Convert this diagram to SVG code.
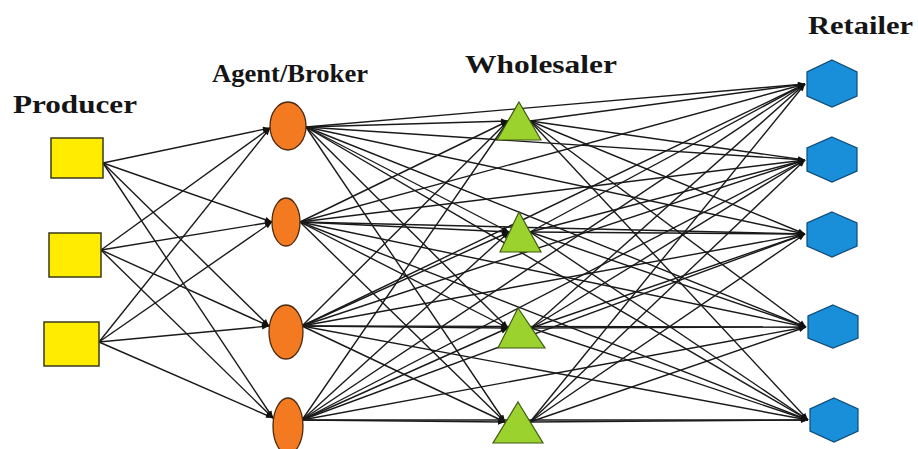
<svg xmlns="http://www.w3.org/2000/svg" width="918" height="449" viewBox="0 0 918 449">
<style>
.lbl{font-family:"Liberation Serif","Times New Roman",serif;font-weight:bold;font-size:25px;fill:#151515}
.c line{stroke:#1a1a1a;stroke-width:1.4;marker-end:url(#arr)}
.prod{fill:#ffec00;stroke:#3a3a1a;stroke-width:1.5}
.agent{fill:#f47a22;stroke:#4a2a10;stroke-width:1.3}
.whol{fill:#9bd22e;stroke:#3d5a10;stroke-width:1.2}
.ret{fill:#1a8fd9;stroke:#0d4a7a;stroke-width:1.2}
</style>
<defs>
<marker id="arr" viewBox="0 0 10 10" refX="10" refY="5" markerWidth="8" markerHeight="7" markerUnits="userSpaceOnUse" orient="auto">
<path d="M0,1 L10,5 L0,9 z" fill="#111"/>
</marker>
</defs>
<rect width="918" height="449" fill="#ffffff"/>

<g id="connectors" class="c">
<!-- Producer -> Agent -->
<line x1="103" y1="163" x2="270" y2="128"/>
<line x1="103" y1="163" x2="272" y2="222"/>
<line x1="103" y1="163" x2="269" y2="326"/>
<line x1="103" y1="163" x2="273" y2="418"/>
<line x1="101" y1="250" x2="270" y2="128"/>
<line x1="101" y1="250" x2="272" y2="222"/>
<line x1="101" y1="250" x2="269" y2="326"/>
<line x1="101" y1="250" x2="273" y2="418"/>
<line x1="99" y1="342" x2="270" y2="128"/>
<line x1="99" y1="342" x2="272" y2="222"/>
<line x1="99" y1="342" x2="269" y2="326"/>
<line x1="99" y1="342" x2="273" y2="418"/>
<!-- Agent -> Wholesaler -->
<line x1="306" y1="127" x2="508" y2="121"/>
<line x1="306" y1="127" x2="509" y2="232"/>
<line x1="306" y1="127" x2="508" y2="328"/>
<line x1="306" y1="127" x2="505" y2="422"/>
<line x1="300" y1="222" x2="508" y2="121"/>
<line x1="300" y1="222" x2="509" y2="232"/>
<line x1="300" y1="222" x2="508" y2="328"/>
<line x1="300" y1="222" x2="505" y2="422"/>
<line x1="302" y1="326" x2="508" y2="121"/>
<line x1="302" y1="326" x2="509" y2="232"/>
<line x1="302" y1="326" x2="508" y2="328"/>
<line x1="302" y1="326" x2="505" y2="422"/>
<line x1="302" y1="420" x2="508" y2="121"/>
<line x1="302" y1="420" x2="509" y2="232"/>
<line x1="302" y1="420" x2="508" y2="328"/>
<line x1="302" y1="420" x2="505" y2="422"/>
<!-- Agent -> Retailer -->
<line x1="306" y1="127" x2="805" y2="84"/>
<line x1="306" y1="127" x2="805" y2="160"/>
<line x1="306" y1="127" x2="805" y2="234"/>
<line x1="306" y1="127" x2="806" y2="327"/>
<line x1="306" y1="127" x2="808" y2="420"/>
<line x1="300" y1="222" x2="805" y2="84"/>
<line x1="300" y1="222" x2="805" y2="160"/>
<line x1="300" y1="222" x2="805" y2="234"/>
<line x1="300" y1="222" x2="806" y2="327"/>
<line x1="300" y1="222" x2="808" y2="420"/>
<line x1="302" y1="326" x2="805" y2="84"/>
<line x1="302" y1="326" x2="805" y2="160"/>
<line x1="302" y1="326" x2="805" y2="234"/>
<line x1="302" y1="326" x2="806" y2="327"/>
<line x1="302" y1="326" x2="808" y2="420"/>
<line x1="302" y1="420" x2="805" y2="84"/>
<line x1="302" y1="420" x2="805" y2="160"/>
<line x1="302" y1="420" x2="805" y2="234"/>
<line x1="302" y1="420" x2="806" y2="327"/>
<line x1="302" y1="420" x2="808" y2="420"/>
<!-- Wholesaler -> Retailer -->
<line x1="530" y1="121" x2="805" y2="84"/>
<line x1="530" y1="121" x2="805" y2="160"/>
<line x1="530" y1="121" x2="805" y2="234"/>
<line x1="530" y1="121" x2="806" y2="327"/>
<line x1="530" y1="121" x2="808" y2="420"/>
<line x1="530" y1="232" x2="805" y2="84"/>
<line x1="530" y1="232" x2="805" y2="160"/>
<line x1="530" y1="232" x2="805" y2="234"/>
<line x1="530" y1="232" x2="806" y2="327"/>
<line x1="530" y1="232" x2="808" y2="420"/>
<line x1="531" y1="328" x2="805" y2="84"/>
<line x1="531" y1="328" x2="805" y2="160"/>
<line x1="531" y1="328" x2="805" y2="234"/>
<line x1="531" y1="328" x2="806" y2="327"/>
<line x1="531" y1="328" x2="808" y2="420"/>
<line x1="530" y1="422" x2="805" y2="84"/>
<line x1="530" y1="422" x2="805" y2="160"/>
<line x1="530" y1="422" x2="805" y2="234"/>
<line x1="530" y1="422" x2="806" y2="327"/>
<line x1="530" y1="422" x2="808" y2="420"/>
</g>

<g id="labels">
<text class="lbl" x="13" y="113" textLength="124" lengthAdjust="spacingAndGlyphs">Producer</text>
<text class="lbl" x="212" y="82" textLength="156" lengthAdjust="spacingAndGlyphs" style="font-size:26px">Agent/Broker</text>
<text class="lbl" x="465" y="73" textLength="152" lengthAdjust="spacingAndGlyphs">Wholesaler</text>
<text class="lbl" x="808" y="34" textLength="105" lengthAdjust="spacingAndGlyphs" style="font-size:26px">Retailer</text>
</g>

<g id="producer1"><rect class="prod" x="51" y="138" width="52" height="40"/></g>
<g id="producer2"><rect class="prod" x="49" y="233" width="52" height="44"/></g>
<g id="producer3"><rect class="prod" x="44" y="322" width="55" height="44"/></g>

<g id="agent1"><ellipse class="agent" cx="288" cy="126" rx="18" ry="24"/></g>
<g id="agent2"><ellipse class="agent" cx="286" cy="222" rx="14" ry="24"/></g>
<g id="agent3"><ellipse class="agent" cx="286" cy="332" rx="17" ry="27"/></g>
<g id="agent4"><ellipse class="agent" cx="288" cy="426" rx="15" ry="28"/></g>

<g id="wholesaler1"><polygon class="whol" points="519,102 541,140 497,140"/></g>
<g id="wholesaler2"><polygon class="whol" points="519,212 541,252 500,252"/></g>
<g id="wholesaler3"><polygon class="whol" points="518,308 545,348 498,348"/></g>
<g id="wholesaler4"><polygon class="whol" points="518,402 543,443 493,443"/></g>

<g id="retailer1"><polygon class="ret" points="832,60 857,72 857,96 832,107 807,96 807,72"/></g>
<g id="retailer2"><polygon class="ret" points="832,137 857,148 857,171 832,182 807,171 807,148"/></g>
<g id="retailer3"><polygon class="ret" points="832,212 857,223 857,246 832,257 807,246 807,223"/></g>
<g id="retailer4"><polygon class="ret" points="833,305 858,316 858,338 833,348 808,338 808,316"/></g>
<g id="retailer5"><polygon class="ret" points="834,398 858,409 858,431 834,442 810,431 810,409"/></g>
</svg>
